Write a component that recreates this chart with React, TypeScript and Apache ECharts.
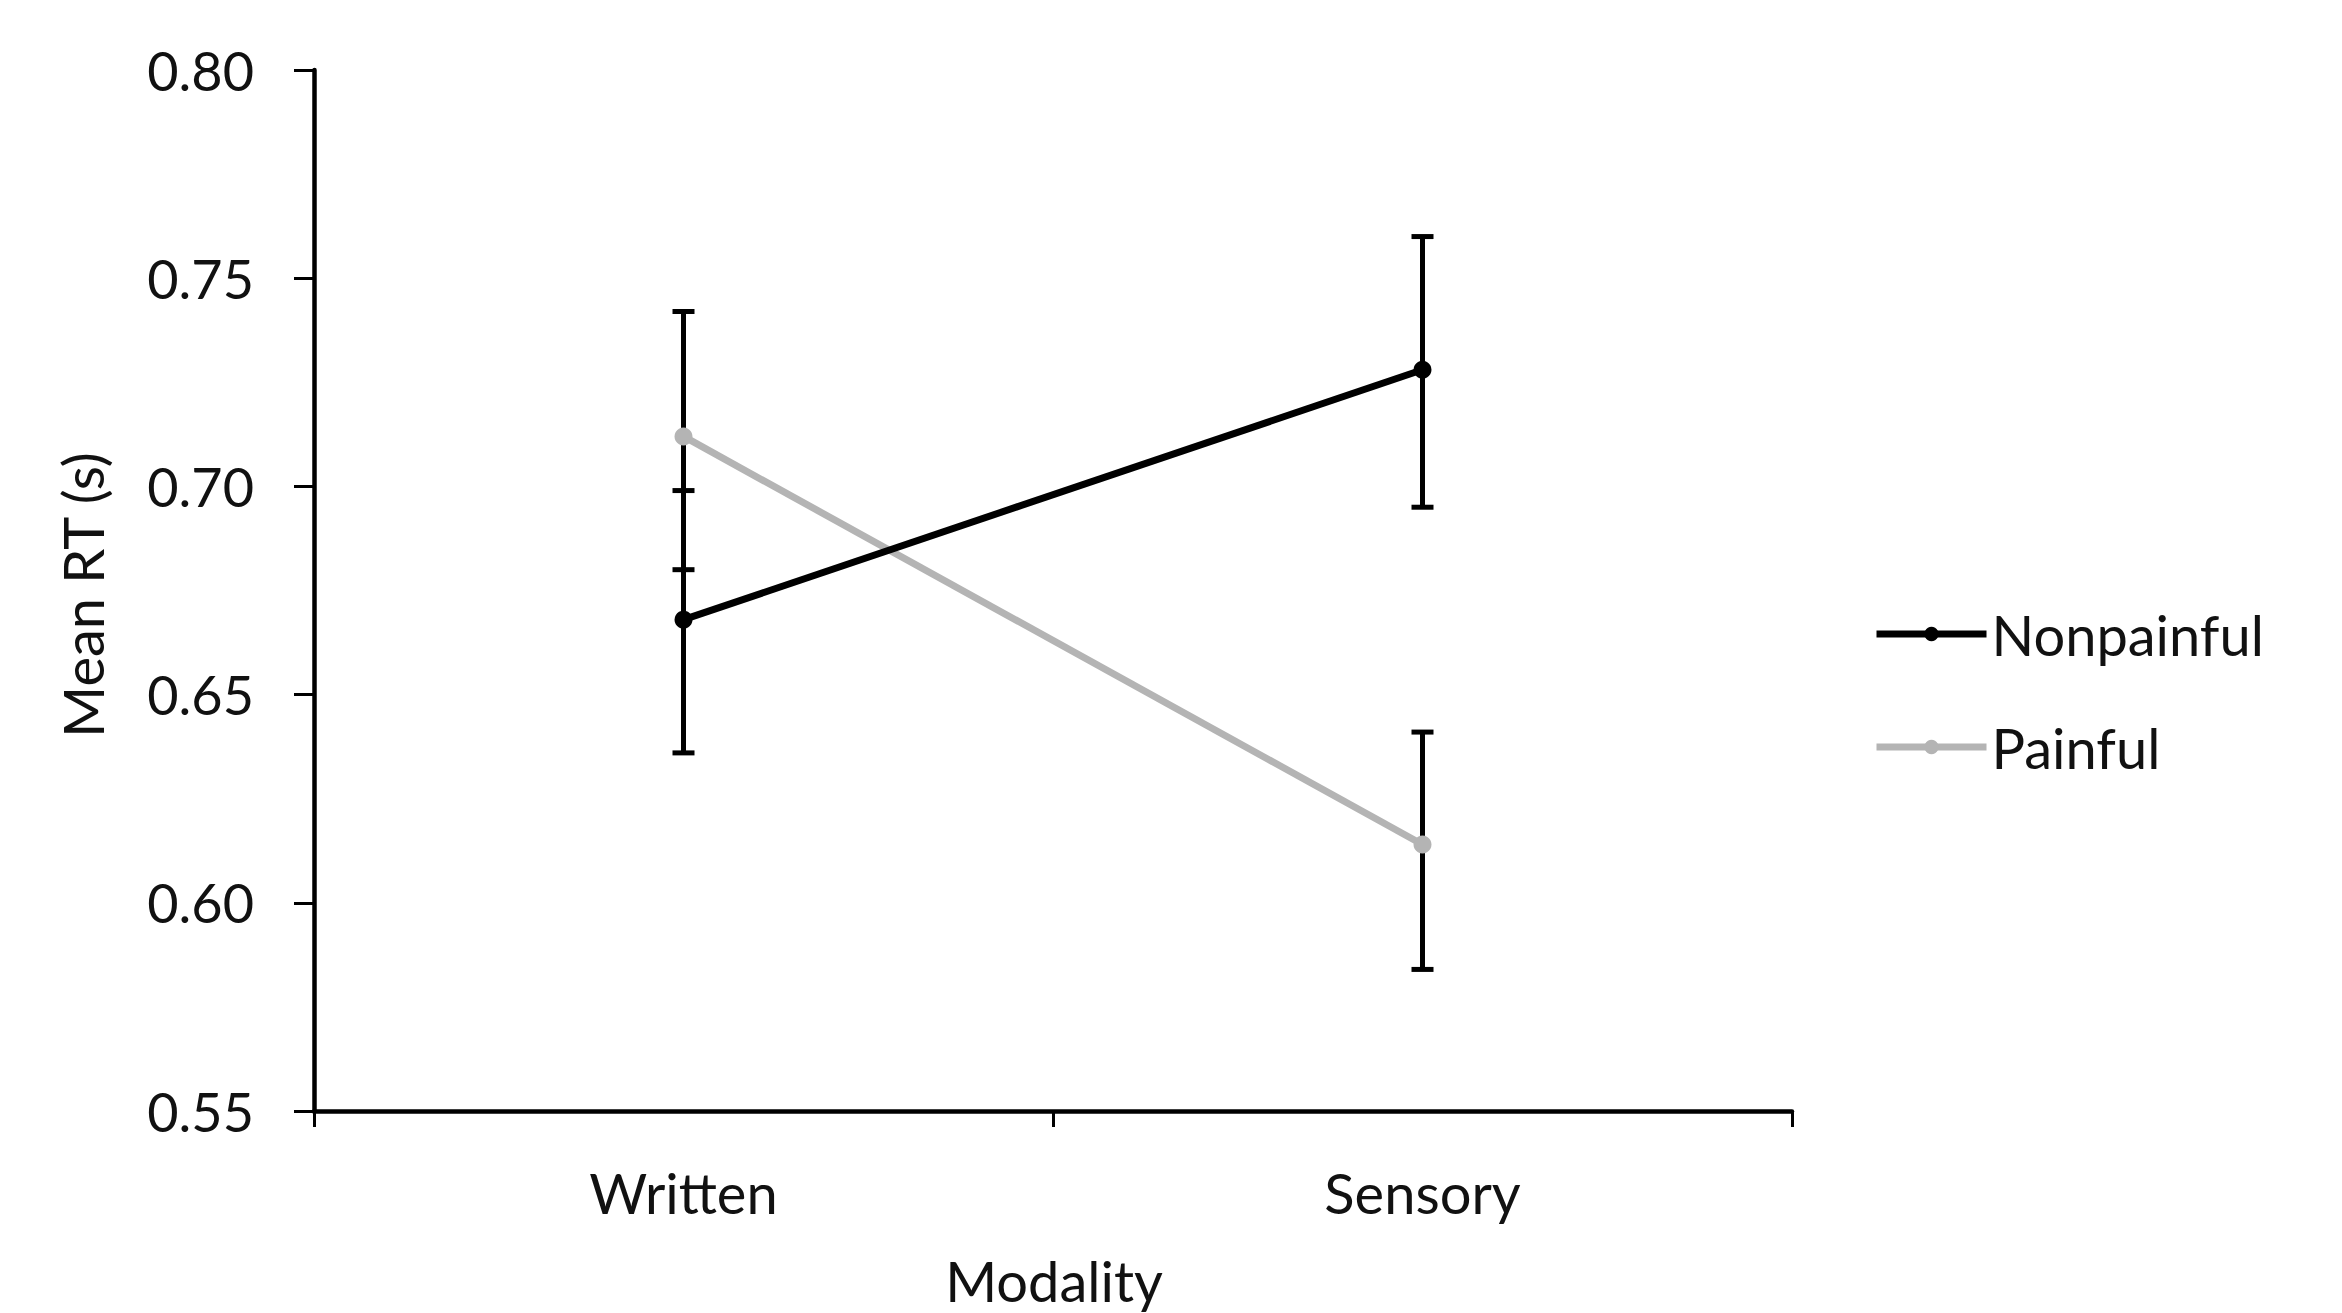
import React, { useEffect, useRef } from "react";
import * as echarts from "echarts";

const categories = ["Written", "Sensory"];
const seriesNames = ["Nonpainful", "Painful"];
const nonpainfulMean = [0.668, 0.728];
const nonpainfulLow = [0.636, 0.695];
const nonpainfulHigh = [0.699, 0.760];
const painfulMean = [0.712, 0.614];
const painfulLow = [0.680, 0.584];
const painfulHigh = [0.742, 0.641];
const yMin = 0.55;
const yMax = 0.8;
const yStep = 0.05;

const FONT = "Lato";

export default function App() {
  const ref = useRef<HTMLDivElement>(null);

  useEffect(() => {
    if (!ref.current) return;
    const chart = echarts.init(ref.current, null, { renderer: "svg" });

    const errData: any[] = [];
    categories.forEach((_, i) => {
      errData.push([i, nonpainfulLow[i], nonpainfulHigh[i]]);
      errData.push([i, painfulLow[i], painfulHigh[i]]);
    });

    const option: any = {
      animation: false,
      backgroundColor: "#ffffff",
      grid: { left: 314, right: 550, top: 70, bottom: 202, containLabel: false },
      xAxis: {
        type: "category",
        data: categories,
        boundaryGap: true,
        axisLine: { show: true, lineStyle: { color: "#000", width: 4.5 } },
        axisTick: { show: true, length: 16, lineStyle: { color: "#000", width: 3 } },
        axisLabel: { fontFamily: FONT, fontSize: 56, color: "#111", margin: 53 },
        splitLine: { show: false },
      },
      yAxis: {
        type: "value",
        min: yMin,
        max: yMax,
        interval: yStep,
        axisLine: { show: true, lineStyle: { color: "#000", width: 4.5 } },
        axisTick: { show: true, length: 20, lineStyle: { color: "#000", width: 3 } },
        axisLabel: {
          fontFamily: FONT,
          fontSize: 54,
          color: "#111",
          margin: 60,
          formatter: (v: number) => v.toFixed(2),
        },
        splitLine: { show: false },
      },
      legend: {
        orient: "vertical",
        left: 1868,
        top: 600,
        itemWidth: 110,
        itemHeight: 18,
        itemGap: 55,
        data: seriesNames,
        lineStyle: { width: 7 },
        textStyle: { fontFamily: FONT, fontSize: 56, color: "#111", lineHeight: 58, padding: [0, 0, 0, 0] },
      },
      graphic: [
        {
          type: "text",
          x: 1054,
          y: 1280,
          style: {
            text: "Modality",
            font: `56px ${FONT}`,
            fill: "#111",
            textAlign: "center",
            textVerticalAlign: "middle",
          },
        },
        {
          type: "text",
          x: 82,
          y: 595,
          rotation: Math.PI / 2,
          style: {
            text: "Mean RT (s)",
            font: `56px ${FONT}`,
            fill: "#111",
            textAlign: "center",
            textVerticalAlign: "middle",
          },
        },
      ],
      series: [
        {
          type: "custom",
          name: "errors",
          z: 1,
          silent: true,
          renderItem: (params: any, api: any) => {
            const x = api.value(0);
            const lo = api.coord([x, api.value(1)]);
            const hi = api.coord([x, api.value(2)]);
            const cap = 11;
            const style = { stroke: "#000", lineWidth: 5 };
            return {
              type: "group",
              children: [
                { type: "line", shape: { x1: lo[0], y1: lo[1], x2: hi[0], y2: hi[1] }, style },
                { type: "line", shape: { x1: lo[0] - cap, y1: lo[1], x2: lo[0] + cap, y2: lo[1] }, style },
                { type: "line", shape: { x1: hi[0] - cap, y1: hi[1], x2: hi[0] + cap, y2: hi[1] }, style },
              ],
            };
          },
          data: errData,
        },
        {
          type: "line",
          name: seriesNames[0],
          z: 3,
          data: nonpainfulMean,
          symbol: "circle",
          symbolSize: 18,
          lineStyle: { color: "#000", width: 7 },
          itemStyle: { color: "#000" },
        },
        {
          type: "line",
          name: seriesNames[1],
          z: 2,
          data: painfulMean,
          symbol: "circle",
          symbolSize: 18,
          lineStyle: { color: "#b4b4b4", width: 7 },
          itemStyle: { color: "#b4b4b4" },
        },
      ],
    };

    chart.setOption(option);
    return () => chart.dispose();
  }, []);

  return (
    <div
      ref={ref}
      style={{ position: "fixed", left: 0, top: 0, width: 2342, height: 1313, background: "#fff" }}
    />
  );
}
